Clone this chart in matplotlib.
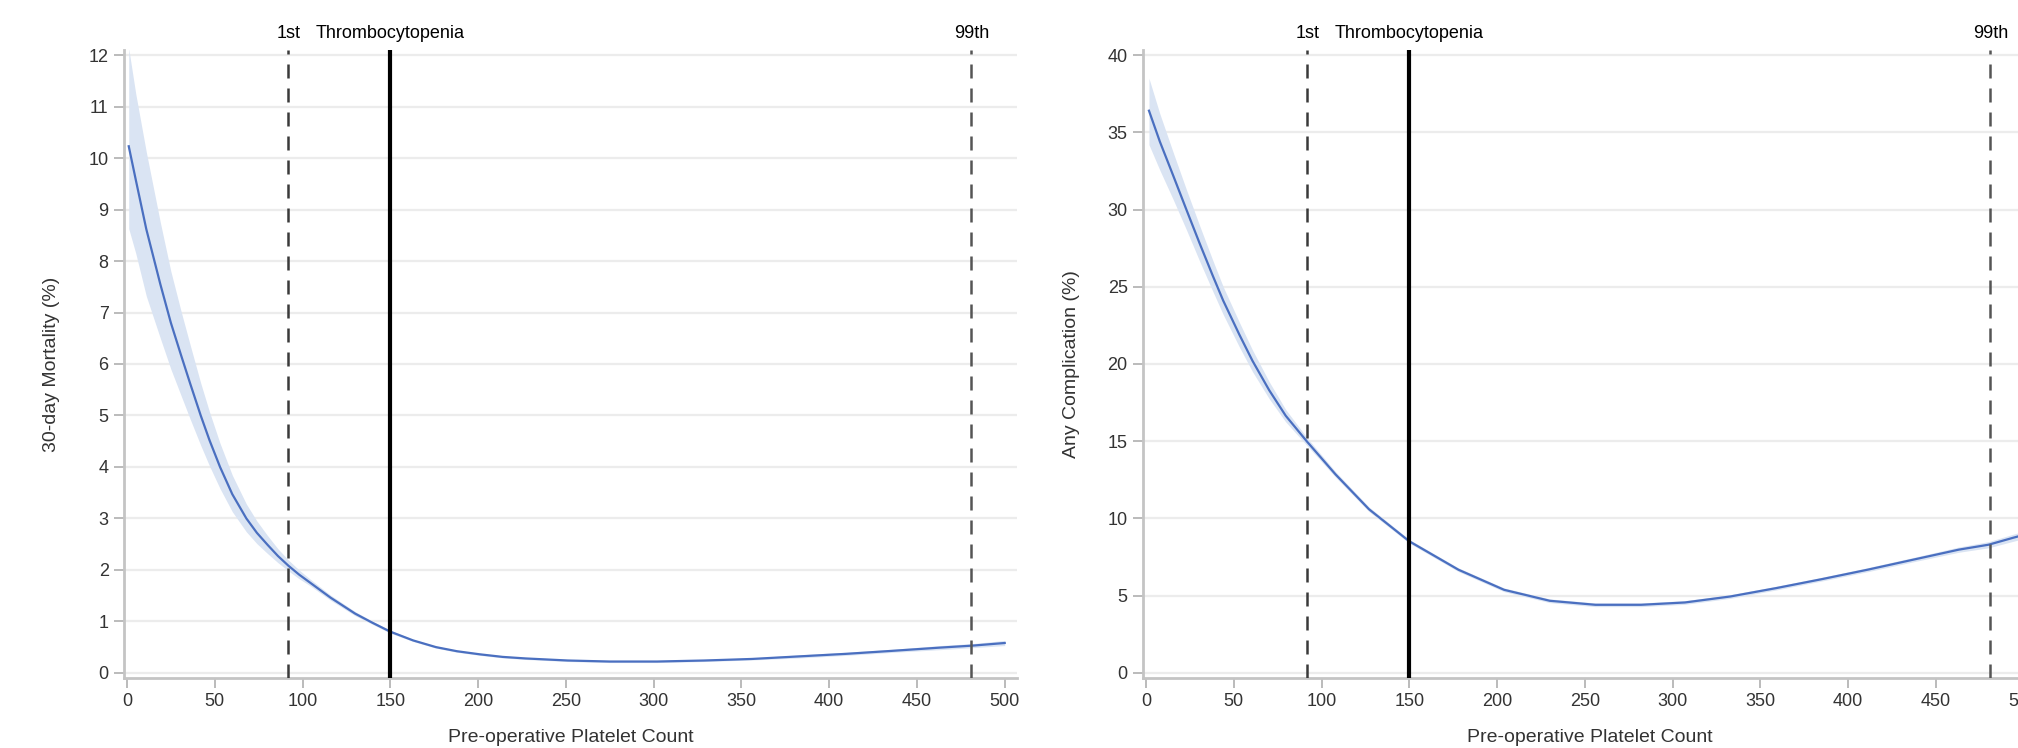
import matplotlib
matplotlib.use("Agg")
import matplotlib.pyplot as plt
import matplotlib.transforms as mtransforms

plt.rcParams['font.family'] = ['Liberation Sans', 'DejaVu Sans']

# ---------------- data ----------------
# Panel A: 30-day mortality (%)
mort_x = [1, 5, 11, 19, 25, 31, 36, 42, 47, 53, 60, 68, 74, 80, 86, 92, 98, 104,
          116, 130, 140, 150, 163, 176, 188, 201, 214, 227, 251, 275, 302, 329,
          356, 383, 410, 437, 463, 482, 500]
mort_est = [10.23, 9.58, 8.62, 7.55, 6.80, 6.15, 5.62, 5.00, 4.52, 4.00, 3.47, 3.00,
            2.72, 2.49, 2.27, 2.08, 1.91, 1.76, 1.46, 1.15, 0.97, 0.80, 0.63, 0.50,
            0.42, 0.36, 0.31, 0.28, 0.24, 0.22, 0.22, 0.24, 0.27, 0.32, 0.37, 0.43,
            0.49, 0.53, 0.58]
mort_lo = [8.63, 8.15, 7.32, 6.50, 5.90, 5.37, 4.93, 4.42, 4.02, 3.58, 3.13, 2.74,
           2.51, 2.32, 2.14, 1.98, 1.83, 1.70, 1.41, 1.11, 0.94, 0.77, 0.61, 0.48,
           0.40, 0.34, 0.29, 0.26, 0.22, 0.20, 0.20, 0.22, 0.25, 0.29, 0.34, 0.40,
           0.45, 0.49, 0.53]
mort_hi = [12.13, 11.25, 10.12, 8.75, 7.80, 7.00, 6.37, 5.63, 5.07, 4.46, 3.84, 3.28,
           2.95, 2.67, 2.41, 2.19, 2.00, 1.83, 1.51, 1.19, 1.00, 0.83, 0.65, 0.52,
           0.44, 0.38, 0.33, 0.30, 0.26, 0.24, 0.24, 0.26, 0.29, 0.35, 0.40, 0.46,
           0.53, 0.57, 0.63]

# Panel B: any complication (%)
comp_x = [1.7, 7.9, 15.5, 23, 30.6, 38.1, 44, 53.2, 60.7, 70.2, 79.6, 92, 108, 127,
          150, 178, 204, 230, 256, 282, 307, 333, 359, 385, 411, 437, 463, 480, 494, 507]
comp_est = [36.4, 34.4, 32.2, 30.0, 27.8, 25.7, 24.1, 21.9, 20.2, 18.3, 16.65, 14.94,
            12.85, 10.6, 8.52, 6.68, 5.38, 4.67, 4.41, 4.41, 4.56, 4.95, 5.49, 6.07,
            6.68, 7.33, 7.98, 8.3, 8.75, 9.15]
comp_lo = [34.2, 32.55, 30.65, 28.7, 26.65, 24.7, 23.2, 21.1, 19.5, 17.75, 16.25, 14.69,
           12.67, 10.45, 8.40, 6.56, 5.26, 4.55, 4.29, 4.29, 4.44, 4.83, 5.37, 5.95,
           6.55, 7.19, 7.81, 8.1, 8.52, 8.9]
comp_hi = [38.5, 36.2, 33.7, 31.3, 28.95, 26.7, 25.0, 22.7, 20.9, 18.85, 17.05, 15.19,
           13.03, 10.75, 8.64, 6.80, 5.50, 4.79, 4.53, 4.53, 4.68, 5.07, 5.61, 6.19,
           6.81, 7.47, 8.15, 8.5, 8.98, 9.4]

pct1 = 92
thrombo = 150
pct99 = 481

x_ticks = [0, 50, 100, 150, 200, 250, 300, 350, 400, 450, 500]
mort_yticks = list(range(0, 13))
comp_yticks = [0, 5, 10, 15, 20, 25, 30, 35, 40]

# ---------------- figure ----------------
W, H = 2018, 748
fig = plt.figure(figsize=(W / 100, H / 100), dpi=100)

ax_bottom = 70 / H
ax_height = 628 / H
ax_width = 893 / W
axA = fig.add_axes([124 / W, ax_bottom, ax_width, ax_height])
axB = fig.add_axes([1143 / W, ax_bottom, ax_width, ax_height])

line_col = '#4a6fc0'
band_col = '#dae4f3'
grid_col = '#ececec'
spine_col = '#c4c4c4'
text_col = '#333333'


def style(ax, yticks, ylim, ylabel, ylab_x):
    ax.set_xlim(-1.7, 507)
    ax.set_ylim(*ylim)
    ax.set_xticks(x_ticks)
    ax.set_yticks(yticks)
    for s in ['top', 'right']:
        ax.spines[s].set_visible(False)
    for s in ['left', 'bottom']:
        ax.spines[s].set_color(spine_col)
        ax.spines[s].set_linewidth(2)
    ax.tick_params(direction='out', length=7, width=1.3, color='#b5b5b5',
                   labelsize=13, labelcolor=text_col, pad=4)
    ax.yaxis.grid(True, color=grid_col, lw=1.6)
    ax.set_axisbelow(True)
    ax.text(ylab_x, 0.5, ylabel, rotation=90, ha='center', va='center',
            fontsize=14, color=text_col, transform=ax.transAxes)
    ax.text(0.5, -0.095, 'Pre-operative Platelet Count', ha='center', va='center',
            fontsize=14, color=text_col, transform=ax.transAxes)
    trans = mtransforms.blended_transform_factory(ax.transData, ax.transAxes)
    ax.axvline(pct1, color='#3a3a3a', lw=1.8, dashes=(5.6, 4.0), zorder=4)
    ax.axvline(pct99, color='#555555', lw=1.8, dashes=(5.6, 4.0), zorder=4)
    ax.axvline(thrombo, color='black', lw=3.0, zorder=4)
    ax.text(pct1, 1.0255, '1st', ha='center', va='center', fontsize=13,
            color='black', transform=trans)
    ax.text(thrombo, 1.0255, 'Thrombocytopenia', ha='center', va='center',
            fontsize=13, color='black', transform=trans)
    ax.text(pct99, 1.0255, '99th', ha='center', va='center', fontsize=13,
            color='black', transform=trans)


style(axA, mort_yticks, (-0.1, 12.1), '30-day Mortality (%)', (52 - 124) / 893)
style(axB, comp_yticks, (-0.33, 40.33), 'Any Complication (%)', (1072 - 1143) / 893)

axA.fill_between(mort_x, mort_lo, mort_hi, color=band_col, lw=0, zorder=2)
axA.plot(mort_x, mort_est, color=line_col, lw=1.6, zorder=3)

axB.fill_between(comp_x, comp_lo, comp_hi, color=band_col, lw=0, zorder=2)
axB.plot(comp_x, comp_est, color=line_col, lw=1.6, zorder=3)

fig.savefig('out.png', dpi=100)
